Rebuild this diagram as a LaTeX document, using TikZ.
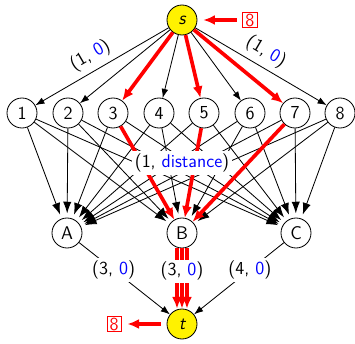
\documentclass[tikz,border=0pt]{standalone}
\usepackage{xcolor}
\usepackage{tikz}
\usetikzlibrary{arrows.meta,positioning}

\begin{document}
\begin{tikzpicture}[
  x=0.6pt, y=-0.6pt,
  node distance=27pt,
  every node/.style={font=\fontsize{11}{13}\selectfont\sffamily},
  vert/.style={draw, circle, minimum size=18pt, inner sep=0pt, line width=0.5pt, fill=white},
  term/.style={vert, fill=yellow},
  cap8/.style={draw=red, text=red, inner sep=0.5pt, minimum width=8.5pt, minimum height=9pt, line width=0.5pt},
  lbl/.style={fill=white, inner sep=1.5pt},
  arr/.style={-{Latex[length=5.5pt,width=4pt]}, line width=0.5pt},
  into/.style={-{Latex[length=7pt,width=5pt]}, line width=0.5pt, shorten >=2.5pt},
  flow/.style={-{Latex[length=7pt,width=6pt]}, line width=2.2pt, red},
  push/.style={flow, line width=2.4pt, shorten <=3.5pt, shorten >=3.5pt},
]
  \useasboundingbox (0,0) rectangle (355,344);
  \node[term] (s) at (182,20) {\itshape s};
  \node[cap8, right=of s] (b8s) {8};
  \foreach \i/\x in {1/22,2/68,3/113,4/159,5/204,6/250,7/295,8/340}
    \node[vert] (n\i) at (\x,113) {\i};
  \node[vert] (A) at (67,233) {A};
  \node[vert] (B) at (182,233) {B};
  \node[vert] (C) at (296,233) {C};
  \node[term] (t) at (182,324) {\itshape t};
  \node[cap8, left=of t] (b8t) {8};
  % source side
  \draw[arr] (s) -- (n1) node[sloped, above, pos=0.53] {(1, \textcolor{blue}{0})};
  \draw[arr] (s) -- (n8) node[sloped, above, pos=0.48] {(1, \textcolor{blue}{0})};
  \foreach \i in {2,4,6} \draw[arr] (s) -- (n\i);
  \foreach \i in {3,5,7} \draw[flow] (s) -- (n\i);
  % middle layer
  \foreach \i in {1,...,8} \draw[into] (n\i) -- (A);
  \foreach \i in {1,...,8} \draw[into] (n\i) -- (C);
  \foreach \i in {1,2,4,6,8} \draw[into] (n\i) -- (B);
  \foreach \i in {3,5,7} \draw[flow] (n\i) -- (B);
  \node[lbl] (dist) at (182,163) {(1, \textcolor{blue}{distance})};
  % sink side
  \draw[arr] (A) -- (t) node[lbl, pos=0.38] {(3, \textcolor{blue}{0})};
  \draw[arr] (C) -- (t) node[lbl, pos=0.38] {(4, \textcolor{blue}{0})};
  \foreach \d in {-3pt,0pt,3pt}
    \draw[flow, line width=2.1pt] ([xshift=\d]B.south) -- ([xshift=\d]t.north);
  \path (B) -- (t) node[lbl, pos=0.38] {(3, \textcolor{blue}{0})};
  \draw[push] (b8s) -- (s);
  \draw[push] (t) -- (b8t);
\end{tikzpicture}
\end{document}
